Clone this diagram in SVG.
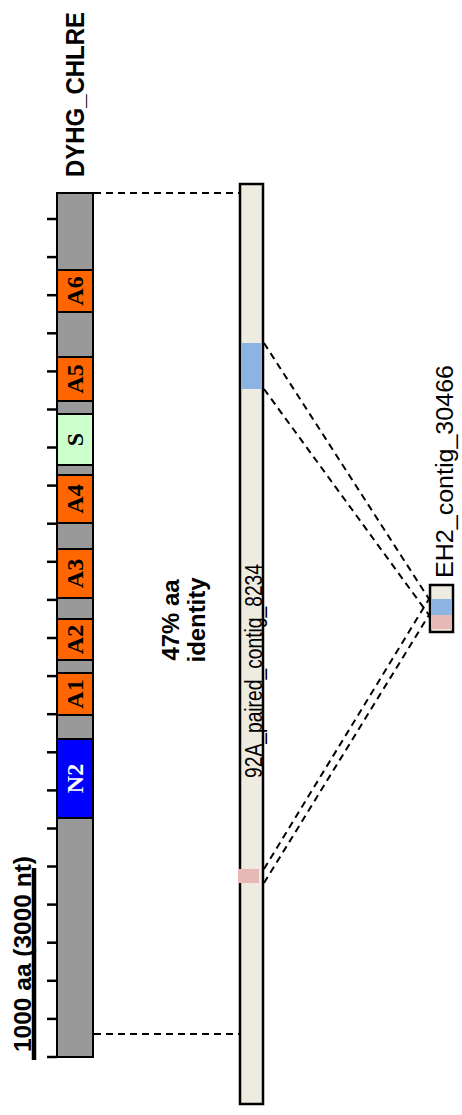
<svg xmlns="http://www.w3.org/2000/svg" width="462" height="1115" viewBox="0 0 462 1115">
<style>
.sans{font-family:"Liberation Sans",Arial,sans-serif;fill:#000}
.bold{font-weight:bold}
.dom{font-family:"Liberation Serif","Times New Roman",serif;font-weight:bold;font-size:24px;fill:#000;text-anchor:middle}
.seg{stroke:#000;stroke-width:2}
.tick{stroke:#000;stroke-width:2.5}
.dash{stroke:#000;stroke-width:2;stroke-dasharray:7,5;fill:none}
</style>
<rect width="462" height="1115" fill="#fff"/>
<g id="title">
<text class="sans bold" font-size="26" transform="translate(84,177) rotate(-90)" textLength="165" lengthAdjust="spacingAndGlyphs">DYHG_CHLRE</text>
</g>
<g id="scale">
<line x1="34" y1="868" x2="34" y2="1060" stroke="#000" stroke-width="4.5"/>
<text class="sans bold" font-size="24" transform="translate(31,1052) rotate(-90)" textLength="196" lengthAdjust="spacingAndGlyphs">1000 aa (3000 nt)</text>
</g>
<g id="ticks">
<line class="tick" x1="47" y1="219" x2="57" y2="219"/>
<line class="tick" x1="47" y1="257.1" x2="57" y2="257.1"/>
<line class="tick" x1="47" y1="295.2" x2="57" y2="295.2"/>
<line class="tick" x1="47" y1="333.3" x2="57" y2="333.3"/>
<line class="tick" x1="47" y1="371.4" x2="57" y2="371.4"/>
<line class="tick" x1="47" y1="409.5" x2="57" y2="409.5"/>
<line class="tick" x1="47" y1="447.5" x2="57" y2="447.5"/>
<line class="tick" x1="47" y1="485.6" x2="57" y2="485.6"/>
<line class="tick" x1="47" y1="523.7" x2="57" y2="523.7"/>
<line class="tick" x1="47" y1="561.8" x2="57" y2="561.8"/>
<line class="tick" x1="47" y1="599.9" x2="57" y2="599.9"/>
<line class="tick" x1="47" y1="638" x2="57" y2="638"/>
<line class="tick" x1="47" y1="676.1" x2="57" y2="676.1"/>
<line class="tick" x1="47" y1="714.2" x2="57" y2="714.2"/>
<line class="tick" x1="47" y1="752.3" x2="57" y2="752.3"/>
<line class="tick" x1="47" y1="790.4" x2="57" y2="790.4"/>
<line class="tick" x1="47" y1="828.5" x2="57" y2="828.5"/>
<line class="tick" x1="47" y1="866.5" x2="57" y2="866.5"/>
<line class="tick" x1="47" y1="904.6" x2="57" y2="904.6"/>
<line class="tick" x1="47" y1="942.7" x2="57" y2="942.7"/>
<line class="tick" x1="47" y1="980.8" x2="57" y2="980.8"/>
<line class="tick" x1="47" y1="1018.9" x2="57" y2="1018.9"/>
<line class="tick" x1="47" y1="1057" x2="57" y2="1057"/>
</g>
<g id="dyhg">
<rect class="seg" x="57" y="193" width="36" height="864" fill="#999999"/>
</g>
<g id="A6"><rect class="seg" x="57" y="270" width="36" height="42" fill="#FF6600"/><text class="dom" transform="translate(83,291) rotate(-90)">A6</text></g>
<g id="A5"><rect class="seg" x="57" y="357" width="36" height="44" fill="#FF6600"/><text class="dom" transform="translate(83,379) rotate(-90)">A5</text></g>
<g id="S"><rect class="seg" x="57" y="414" width="36" height="51" fill="#CCFFCC"/><text class="dom" transform="translate(83,439.5) rotate(-90)">S</text></g>
<g id="A4"><rect class="seg" x="57" y="475" width="36" height="48" fill="#FF6600"/><text class="dom" transform="translate(83,499) rotate(-90)">A4</text></g>
<g id="A3"><rect class="seg" x="57" y="549" width="36" height="49" fill="#FF6600"/><text class="dom" transform="translate(83,573.5) rotate(-90)">A3</text></g>
<g id="A2"><rect class="seg" x="57" y="619" width="36" height="41" fill="#FF6600"/><text class="dom" transform="translate(83,639.5) rotate(-90)">A2</text></g>
<g id="A1"><rect class="seg" x="57" y="673" width="36" height="42" fill="#FF6600"/><text class="dom" transform="translate(83,694) rotate(-90)">A1</text></g>
<g id="N2"><rect class="seg" x="57" y="739" width="36" height="79" fill="#0000FF"/><text class="dom" style="fill:#fff" transform="translate(83,778.5) rotate(-90)">N2</text></g>
<g id="identity">
<text class="sans bold" font-size="23" text-anchor="middle" transform="translate(179,620) rotate(-90)" textLength="81" lengthAdjust="spacingAndGlyphs">47% aa</text>
<text class="sans bold" font-size="23" text-anchor="middle" transform="translate(205,620) rotate(-90)" textLength="85" lengthAdjust="spacingAndGlyphs">identity</text>
</g>
<g id="contig8234">
<rect x="240" y="184" width="23" height="920" fill="#EEEBE0" stroke="#000" stroke-width="2.5"/>
<rect x="241" y="343" width="21" height="46" fill="#8DB3E2"/>
<rect x="238" y="869" width="21" height="14" fill="#E6B9B8"/>
<text class="sans" font-size="23" transform="translate(262,778) rotate(-90)" textLength="214" lengthAdjust="spacingAndGlyphs">92A_paired_contig_8234</text>
</g>
<g id="contig30466">
<rect x="430" y="585" width="23" height="47" fill="#EEEBE0" stroke="#000" stroke-width="2.5"/>
<rect x="431" y="599" width="21" height="16" fill="#8DB3E2"/>
<rect x="431" y="615" width="21" height="14" fill="#E6B9B8"/>
<text class="sans" font-size="23" transform="translate(453,578) rotate(-90)" textLength="213" lengthAdjust="spacingAndGlyphs">EH2_contig_30466</text>
</g>
<g id="connectors">
<line class="dash" x1="94" y1="193" x2="239" y2="193"/>
<line class="dash" x1="94" y1="1034" x2="239" y2="1034"/>
<line class="dash" x1="264" y1="343" x2="429" y2="599"/>
<line class="dash" x1="264" y1="389" x2="429" y2="615"/>
<line class="dash" x1="264" y1="869" x2="429" y2="599"/>
<line class="dash" x1="264" y1="883" x2="429" y2="615"/>
</g>
</svg>
